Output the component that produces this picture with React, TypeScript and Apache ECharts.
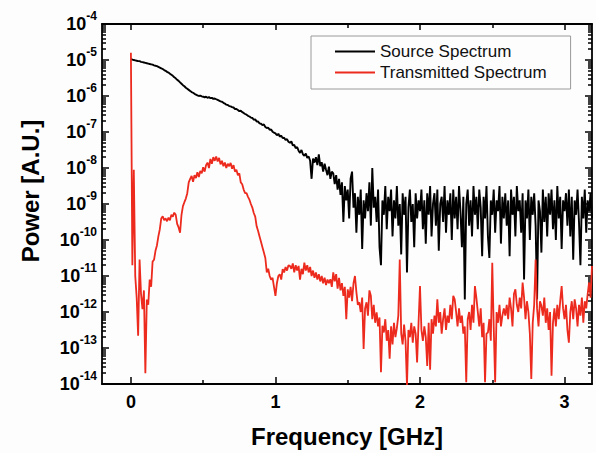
import React, { useEffect, useRef } from "react";
import * as echarts from "echarts";

// Frequency grid: samples every 0.01 GHz starting at 0 GHz
const FREQ_START_GHZ = 0;
const FREQ_STEP_GHZ = 0.01;

// log10 of power [A.U.], one row per 0.1 GHz
const sourceLog10Power: number[] = [
  -4.97, -4.99, -5.0, -5.01, -5.02, -5.03, -5.03, -5.05, -5.06, -5.07,
  -5.08, -5.09, -5.1, -5.11, -5.12, -5.13, -5.15, -5.16, -5.17, -5.19,
  -5.21, -5.23, -5.25, -5.28, -5.3, -5.33, -5.35, -5.38, -5.41, -5.44,
  -5.48, -5.51, -5.55, -5.58, -5.62, -5.66, -5.7, -5.73, -5.77, -5.8,
  -5.83, -5.86, -5.89, -5.91, -5.94, -5.96, -5.98, -6.0, -5.99, -6.01,
  -6.02, -6.04, -6.02, -6.05, -6.03, -6.06, -6.05, -6.08, -6.07, -6.09,
  -6.11, -6.13, -6.15, -6.16, -6.19, -6.21, -6.24, -6.25, -6.28, -6.29,
  -6.31, -6.32, -6.36, -6.36, -6.39, -6.42, -6.41, -6.45, -6.47, -6.5,
  -6.52, -6.55, -6.57, -6.6, -6.61, -6.66, -6.65, -6.71, -6.71, -6.76,
  -6.77, -6.81, -6.79, -6.86, -6.89, -6.88, -6.94, -6.93, -6.99, -7.02,
  -7.04, -7.09, -7.05, -7.13, -7.1, -7.17, -7.16, -7.22, -7.2, -7.27,
  -7.3, -7.26, -7.37, -7.36, -7.45, -7.42, -7.52, -7.58, -7.5, -7.62,
  -7.66, -7.6, -7.72, -7.68, -7.8, -8.3, -7.74, -7.85, -7.7, -7.92,
  -7.62, -7.95, -7.84, -8.1, -7.88, -8.05, -8.2, -7.96, -8.3, -8.1,
  -8.15, -8.45, -8.2, -8.6, -8.3, -8.75, -8.4, -9.5, -8.5, -8.9,
  -8.6, -9.4, -8.3, -8.1, -9.1, -8.7, -9.8, -8.8, -9.3, -8.6,
  -10.25, -8.9, -9.4, -8.7, -9.2, -8.4, -9.6, -8.0, -9.1, -8.8,
  -9.5, -8.6, -10.2, -10.7, -8.9, -9.3, -8.5, -9.7, -8.8, -9.2,
  -8.6, -9.9, -8.9, -9.4, -8.5, -9.6, -9.0, -10.4, -8.7, -9.3,
  -8.8, -10.9, -9.1, -8.6, -9.5, -9.0, -10.2, -8.7, -9.4, -8.9,
  -9.2, -8.6, -9.7, -8.9, -10.1, -8.7, -9.3, -8.5, -9.9, -9.0,
  -8.7, -9.6, -8.6, -10.3, -9.0, -8.8, -9.5, -8.5, -9.8, -8.9,
  -9.3, -8.7, -10.0, -8.6, -9.4, -8.8, -9.7, -8.5, -9.2, -10.2,
  -8.8, -11.65, -9.0, -8.6, -9.6, -8.9, -9.9, -8.5, -9.3, -8.8,
  -9.7, -8.6, -9.1, -10.45, -8.8, -9.4, -8.5, -9.9, -10.5, -8.9,
  -9.3, -8.6, -9.8, -8.9, -9.2, -8.5, -10.1, -8.8, -9.4, -8.7,
  -9.6, -8.9, -10.45, -8.6, -9.3, -8.8, -9.9, -8.5, -9.2, -8.9,
  -9.8, -8.7, -11.1, -8.9, -9.4, -8.6, -10.0, -8.8, -9.3, -8.7,
  -9.6, -11.65, -8.9, -9.2, -10.35, -8.6, -9.5, -8.8, -9.9, -8.7,
  -9.3, -8.6, -9.7, -8.9, -10.0, -8.5, -9.4, -8.8, -10.25, -8.9,
  -9.2, -8.7, -9.6, -8.6, -9.9, -8.8, -10.55, -8.9, -9.3, -8.6,
  -9.5, -10.7, -8.8, -9.4, -8.6, -9.8, -8.9, -9.2, -8.7, -9.4,
];

const transmittedLog10Power: number[] = [
  -4.8, -10.7, -8.05, -11.0, -11.6, -12.66, -10.54, -11.5, -11.92, -11.4,
  -13.7, -11.65, -11.8, -11.1, -11.3, -10.6, -10.55, -10.3, -10.15, -9.9,
  -9.7, -9.4, -9.34, -9.45, -9.4, -9.48, -9.38, -9.45, -9.3, -9.35,
  -9.24, -9.3, -9.55, -9.65, -9.8, -9.3, -9.06, -8.95, -8.85, -8.7,
  -8.4, -8.3, -8.22, -8.38, -8.2, -8.28, -8.12, -8.25, -8.08, -8.15,
  -7.98, -8.1, -7.92, -7.85, -8.0, -7.75, -7.88, -7.7, -7.8, -7.68,
  -7.82, -7.72, -7.9, -7.8, -7.95, -7.85, -8.0, -7.88, -7.95, -7.86,
  -8.02, -7.92, -8.1, -8.05, -8.2, -8.15, -8.4, -8.45, -8.6, -8.7,
  -8.7, -8.8, -8.88, -9.0, -9.1, -9.25, -9.35, -9.62, -9.75, -9.9,
  -10.05, -10.2, -10.35, -10.5, -10.9, -10.8, -11.0, -11.1, -11.05, -11.3,
  -11.55, -11.2, -11.0, -10.95, -11.1, -10.81, -10.9, -10.75, -10.85, -10.7,
  -10.72, -10.8, -10.65, -10.9, -10.7, -10.85, -10.72, -11.1, -10.8, -10.95,
  -10.63, -10.85, -10.7, -10.9, -10.75, -11.0, -10.85, -11.05, -10.9, -11.1,
  -10.95, -11.15, -11.0, -11.2, -11.05, -11.25, -11.1, -11.2, -11.09, -11.3,
  -10.9, -11.15, -10.95, -11.35, -11.05, -11.4, -11.2, -11.55, -11.3, -12.2,
  -11.37, -11.6, -11.3, -11.7, -11.2, -11.0, -11.45, -11.8, -11.73, -12.0,
  -11.6, -13.03, -11.9, -11.73, -12.1, -11.4, -11.55, -12.2, -11.8, -12.3,
  -12.01, -12.4, -12.15, -13.67, -12.38, -12.57, -12.2, -12.8, -12.5, -13.3,
  -12.4, -12.9, -12.3, -12.7, -12.45, -12.1, -10.54, -12.6, -12.9, -12.35,
  -12.8, -14.05, -12.5, -12.7, -12.3, -12.85, -12.4, -12.6, -13.4, -12.3,
  -11.28, -12.5, -12.8, -12.4, -12.7, -13.5, -12.3, -13.6, -12.2, -12.6,
  -12.1, -12.4, -11.65, -12.3, -12.0, -12.6, -12.2, -11.9, -12.5, -12.1,
  -12.3, -11.8, -12.2, -11.55, -11.65, -12.0, -12.4, -11.9, -12.3, -12.1,
  -12.6, -12.4, -13.95, -12.2, -12.0, -12.5, -11.8, -12.3, -11.28, -11.6,
  -12.0, -12.4, -11.9, -12.7, -12.3, -13.95, -12.6, -12.57, -12.2, -12.8,
  -10.63, -12.4, -13.95, -12.0, -12.3, -11.8, -12.4, -12.1, -11.9, -12.1,
  -11.8, -12.2, -11.6, -11.9, -12.4, -11.5, -11.37, -11.8, -12.0, -11.6,
  -11.9, -11.18, -11.6, -12.2, -11.7, -12.0, -12.6, -13.86, -12.3, -11.8,
  -10.54, -11.9, -12.4, -11.7, -11.83, -12.1, -11.6, -12.3, -11.9, -12.5,
  -12.0, -13.77, -12.3, -11.9, -12.4, -11.8, -12.2, -11.7, -11.28, -11.9,
  -12.2, -11.8, -12.5, -12.85, -12.0, -11.7, -12.2, -11.65, -11.9, -12.4,
  -11.8, -12.1, -11.6, -12.3, -11.7, -11.9, -11.5, -11.18, -11.6, -10.72,
];

const seriesNames = ["Source Spectrum", "Transmitted Spectrum"];
const xMajorTicks = [0, 1, 2, 3];
const xMinorTicks = [0.5, 1.5, 2.5];
const yDecades = [-14, -13, -12, -11, -10, -9, -8, -7, -6, -5, -4];

const FONT = "'Liberation Sans', Arial, Helvetica, sans-serif";

function toPairs(values: number[]): number[][] {
  return values.map((v, i) => [
    Number((FREQ_START_GHZ + i * FREQ_STEP_GHZ).toFixed(3)),
    v,
  ]);
}

export default function App() {
  const ref = useRef<HTMLDivElement>(null);

  useEffect(() => {
    if (!ref.current) return;
    const chart = echarts.init(ref.current, undefined, { renderer: "svg" });

    const yMinor: number[] = [];
    for (let d = 0; d < yDecades.length - 1; d++) {
      for (let k = 2; k <= 9; k++) yMinor.push(yDecades[d] + Math.log10(k));
    }

    const axisLine = { show: true, onZero: false, lineStyle: { color: "#000", width: 1.8 } };
    const noLine = { show: false, onZero: false };
    const tickStyle = { color: "#000", width: 1.5 };
    const xBase = { type: "value", min: -0.2, max: 3.19, splitLine: { show: false } };
    const yBase = { type: "value", min: -14, max: -4, interval: 1, splitLine: { show: false } };

    chart.setOption({
      animation: false,
      backgroundColor: "#fdfdfe",
      textStyle: { fontFamily: FONT },
      grid: { left: 102, right: 4, top: 24, bottom: 68, containLabel: false },
      legend: {
        data: seriesNames,
        orient: "vertical",
        left: 311,
        top: 36,
        padding: [7, 24, 8, 24],
        itemGap: 4,
        itemWidth: 40,
        itemHeight: 2,
        icon: "rect",
        borderColor: "#9a9a9a",
        borderWidth: 1,
        backgroundColor: "#fdfdfe",
        textStyle: { fontSize: 17, lineHeight: 17, color: "#111", fontFamily: FONT },
      },
      xAxis: [
        {
          ...xBase,
          position: "bottom",
          axisLine,
          axisTick: { show: true, inside: true, length: 7, customValues: xMajorTicks, lineStyle: tickStyle },
          axisLabel: {
            show: true,
            customValues: xMajorTicks,
            margin: 9,
            fontSize: 18,
            fontWeight: "bold",
            color: "#000",
            fontFamily: FONT,
          },
          name: "Frequency [GHz]",
          nameLocation: "middle",
          nameGap: 40,
          nameTextStyle: { fontSize: 24, fontWeight: "bold", color: "#000", fontFamily: FONT },
        },
        {
          ...xBase,
          position: "bottom",
          axisLine: noLine,
          axisTick: { show: true, inside: true, length: 4, customValues: xMinorTicks, lineStyle: tickStyle },
          axisLabel: { show: false },
        },
        {
          ...xBase,
          position: "top",
          axisLine,
          axisTick: { show: true, inside: true, length: 6, customValues: xMajorTicks, lineStyle: tickStyle },
          axisLabel: { show: false },
        },
        {
          ...xBase,
          position: "top",
          axisLine: noLine,
          axisTick: { show: true, inside: true, length: 4, customValues: xMinorTicks, lineStyle: tickStyle },
          axisLabel: { show: false },
        },
      ],
      yAxis: [
        {
          ...yBase,
          position: "left",
          axisLine,
          axisTick: { show: true, inside: true, length: 7, lineStyle: tickStyle },
          axisLabel: {
            show: true,
            margin: 5,
            formatter: (v: number) => `{b|10}{s|${Math.round(v)}}`,
            rich: {
              b: { fontSize: 18, fontWeight: "bold", color: "#000", fontFamily: FONT },
              s: { fontSize: 12, fontWeight: "bold", color: "#000", fontFamily: FONT, padding: [0, 0, 16, 0] },
            },
          },
        },
        {
          ...yBase,
          position: "left",
          axisLine: noLine,
          axisTick: { show: true, inside: true, length: 4, customValues: yMinor, lineStyle: tickStyle },
          axisLabel: { show: false },
        },
        {
          ...yBase,
          position: "right",
          axisLine,
          axisTick: { show: true, inside: true, length: 7, lineStyle: tickStyle },
          axisLabel: { show: false },
        },
        {
          ...yBase,
          position: "right",
          axisLine: noLine,
          axisTick: { show: true, inside: true, length: 4, customValues: yMinor, lineStyle: tickStyle },
          axisLabel: { show: false },
        },
      ],
      graphic: [
        {
          type: "text",
          x: 30,
          y: 191,
          rotation: Math.PI / 2,
          style: {
            text: "Power [A.U.]",
            font: `bold 24px ${FONT}`,
            fill: "#000",
            textAlign: "center",
            textVerticalAlign: "middle",
          },
        },
      ],
      series: [
        {
          name: seriesNames[0],
          type: "line",
          xAxisIndex: 0,
          yAxisIndex: 0,
          data: toPairs(sourceLog10Power),
          showSymbol: false,
          symbol: "none",
          color: "#000000",
          lineStyle: { color: "#000000", width: 1.9 },
          clip: true,
        },
        {
          name: seriesNames[1],
          type: "line",
          xAxisIndex: 0,
          yAxisIndex: 0,
          data: toPairs(transmittedLog10Power),
          showSymbol: false,
          symbol: "none",
          color: "#ec2a1d",
          lineStyle: { color: "#ec2a1d", width: 1.8 },
          clip: true,
        },
      ],
    });

    return () => chart.dispose();
  }, []);

  return (
    <div
      ref={ref}
      style={{ position: "absolute", left: 0, top: 0, width: 596, height: 453 }}
    />
  );
}
